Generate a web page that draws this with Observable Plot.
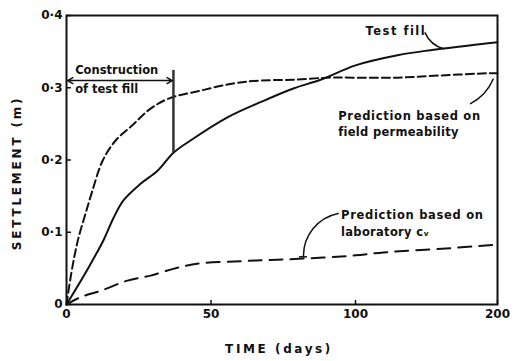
<!DOCTYPE html>
<html>
<head>
<meta charset="utf-8">
<script src="https://cdn.jsdelivr.net/npm/d3@7"></script>
<script src="https://cdn.jsdelivr.net/npm/@observablehq/plot@0.6"></script>
<style>
  html, body { margin: 0; padding: 0; background: #fff; }
  #chart svg { display: block; }
</style>
</head>
<body>
<div id="chart"></div>
<script>
// Settlement of the test fill against time, with two predictions.
const testFillDays  = [0, 7.6, 12.8, 16.3, 19.7, 25.6, 31.5, 37, 42.9, 55.7, 67.1, 78.5, 87.9, 100, 129.6, 152.8, 200];
const testFillValue = [0, 0.051, 0.089, 0.120, 0.144, 0.167, 0.185, 0.210, 0.227, 0.259, 0.280, 0.299, 0.311, 0.331, 0.345, 0.352, 0.363];

const fieldDays  = [0, 1.4, 2.8, 4.2, 6.6, 9, 12.5, 17, 22.8, 28.4, 35.3, 46.4, 57.8, 67.1, 78.5, 90.3, 100, 129.6, 159.9, 193, 200];
const fieldValue = [0, 0.037, 0.068, 0.093, 0.126, 0.158, 0.199, 0.227, 0.248, 0.269, 0.285, 0.296, 0.306, 0.310, 0.311, 0.314, 0.314, 0.314, 0.317, 0.320, 0.320];

const labDays  = [0, 4.8, 11.8, 21.1, 29.1, 38.4, 46.4, 60.2, 73, 88.9, 100, 119.7, 166.9, 200];
const labValue = [0, 0.010, 0.019, 0.033, 0.040, 0.051, 0.057, 0.060, 0.062, 0.065, 0.068, 0.072, 0.078, 0.083];

// End of fill construction (days) and the settlement reached then
const constructionEnd = 37;
const constructionSettlement = 0.210;

// Axis ticks and their printed labels
const xTicks = [0, 50, 100, 200];
const xTickLabels = ["0", "50", "100", "200"];
const yTicks = [0, 0.1, 0.2, 0.3, 0.4];
const yTickLabels = ["0", "0·1", "0·2", "0·3", "0·4"];

const zip = (xs, ys) => xs.map((d, i) => ({days: d, value: ys[i]}));
const testFill = zip(testFillDays, testFillValue);
const field = zip(fieldDays, fieldValue);
const lab = zip(labDays, labValue);

const font = "DejaVu Sans";
const txt = {fill: "#111", fontSize: 11.5, fontWeight: "bold", fontFamily: font};
const leader = {headLength: 0, stroke: "#111", strokeWidth: 1.5};

// extra letter spacing for the lettering (px)
const spacing = {
  "SETTLEMENT (m)": 2.8,
  "TIME (days)": 2.6,
  "Test fill": 1.5,
  "Prediction based on": 0.7,
  "field permeability": 0.3,
  "laboratory cᵥ": 0.3
};

const chart = Plot.plot({
  width: 514,
  height: 361,
  marginLeft: 66,
  marginRight: 17,
  marginTop: 15,
  marginBottom: 57,
  style: {background: "#fff", color: "#111", fontFamily: font},
  // time axis: 0–100 days at full scale, 100–200 compressed
  x: {type: "linear", domain: [0, 100, 200], range: [66, 355, 497]},
  y: {domain: [0, 0.4]},
  marks: [
    Plot.frame({stroke: "#111", strokeWidth: 2}),
    Plot.axisX({
      ticks: xTicks, tickSize: -4, tickPadding: 9,
      tickFormat: d => xTickLabels[xTicks.indexOf(d)],
      fontSize: 12, fontWeight: "bold", label: null, strokeWidth: 1.5
    }),
    Plot.axisY({
      ticks: yTicks, tickSize: -5, tickPadding: 9,
      tickFormat: d => yTickLabels[yTicks.indexOf(d)],
      fontSize: 12, fontWeight: "bold", label: null, strokeWidth: 1.5
    }),
    Plot.text(["SETTLEMENT (m)"], {
      frameAnchor: "left", textAnchor: "middle", rotate: -90, dx: -49, dy: 13,
      ...txt, fontSize: 12
    }),
    Plot.text(["TIME (days)"], {
      frameAnchor: "bottom", dx: -3, dy: 48, ...txt, fontSize: 12
    }),

    // curves
    Plot.line(field, {x: "days", y: "value", curve: "catmull-rom", stroke: "#111", strokeWidth: 2, strokeDasharray: "8,4"}),
    Plot.line(lab, {x: "days", y: "value", curve: "catmull-rom", stroke: "#111", strokeWidth: 2, strokeDasharray: "13,8"}),
    Plot.line(testFill, {x: "days", y: "value", curve: "catmull-rom", stroke: "#111", strokeWidth: 2}),

    // construction period
    Plot.ruleX([constructionEnd], {y1: 0.324, y2: constructionSettlement, stroke: "#333", strokeWidth: 2.5}),
    Plot.arrow([{x1: 18, x2: 0.4}, {x1: 18, x2: constructionEnd - 0.4}], {
      x1: "x1", x2: "x2", y1: 0.31, y2: 0.31, stroke: "#111", strokeWidth: 1.5, headLength: 6
    }),
    Plot.text(["Construction"], {x: 3, y: 0.324, textAnchor: "start", ...txt}),
    Plot.text(["of test fill"], {x: 3, y: 0.298, textAnchor: "start", ...txt}),

    // labels and leaders
    Plot.text(["Test fill"], {x: 107, y: 0.378, textAnchor: "start", ...txt}),
    Plot.arrow([0], {x1: 149, y1: 0.376, x2: 162, y2: 0.354, bend: -25, ...leader}),

    Plot.text(["Prediction based on"], {x: 94, y: 0.260, textAnchor: "start", ...txt}),
    Plot.text(["field permeability"], {x: 94, y: 0.238, textAnchor: "start", ...txt}),
    Plot.arrow([0], {x1: 197, y1: 0.312, x2: 181, y2: 0.278, bend: 20, ...leader}),

    Plot.text(["Prediction based on"], {x: 95, y: 0.123, textAnchor: "start", ...txt}),
    Plot.text(["laboratory cᵥ"], {x: 95, y: 0.100, textAnchor: "start", ...txt}),
    Plot.arrow([0], {x1: 94, y1: 0.126, x2: 82, y2: 0.066, bend: -40, ...leader}),
    Plot.ruleY([0.066], {x1: 80.6, x2: 83.4, stroke: "#111", strokeWidth: 1.5})
  ]
});

d3.select(chart).selectAll("text").each(function () {
  const s = spacing[this.textContent];
  if (s != null) this.setAttribute("letter-spacing", s);
});

document.getElementById("chart").append(chart);
</script>
</body>
</html>
